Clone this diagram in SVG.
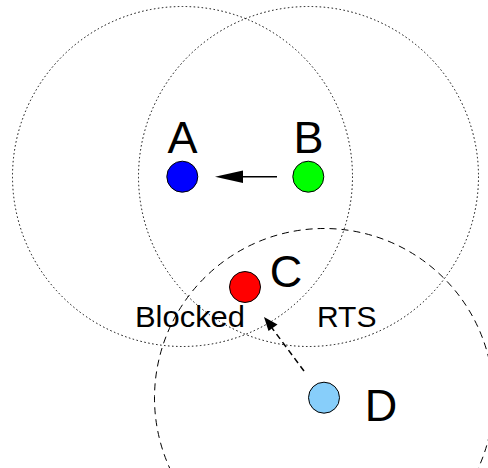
<svg xmlns="http://www.w3.org/2000/svg" width="488" height="468" viewBox="0 0 488 468">
<style>
.range{fill:none;stroke:#000;stroke-width:1;stroke-dasharray:1.5,2.5}
.rts{fill:none;stroke:#000;stroke-width:1;stroke-dasharray:7,5}
.node{stroke:#000;stroke-width:1}
.big{font-family:"Liberation Sans",Arial,sans-serif;font-size:45px;fill:#000;text-anchor:middle}
.small{font-family:"Liberation Sans",Arial,sans-serif;font-size:30px;fill:#000}
</style>
<defs>
<marker id="ah" viewBox="0 0 10 10" refX="10" refY="5" markerWidth="10" markerHeight="10" markerUnits="userSpaceOnUse" orient="auto">
<path d="M0,0 L10,5 L0,10 Z" fill="#000"/>
</marker>
</defs>
<g id="ranges">
<circle class="range" cx="182.5" cy="176.5" r="170"/>
<circle class="range" cx="308.5" cy="176.5" r="170"/>
<circle class="rts" cx="324" cy="398" r="169.5"/>
</g>
<g id="connectors">
<line x1="277" y1="176.7" x2="243" y2="176.7" stroke="#000" stroke-width="1.5"/>
<path d="M215,176.7 L243,170.5 L243,183 Z" fill="#000"/>
<line x1="304" y1="371" x2="272" y2="328" stroke="#000" stroke-width="1.5" stroke-dasharray="6,4"/>
<path d="M264,317 L277.5,324.5 L268.5,331 Z" fill="#000"/>
</g>
<g id="node-A">
<circle class="node" cx="182.3" cy="176.7" r="15.5" fill="#0000ff"/>
<text class="big" x="182.5" y="153">A</text>
</g>
<g id="node-B">
<circle class="node" cx="308.3" cy="176.7" r="15.5" fill="#00ff00"/>
<text class="big" x="308.5" y="153">B</text>
</g>
<g id="node-C">
<circle class="node" cx="245" cy="287" r="15.5" fill="#ff0000"/>
<text class="big" x="286" y="287">C</text>
</g>
<g id="node-D">
<circle class="node" cx="324" cy="397.7" r="15.5" fill="#87cefa"/>
<text class="big" x="381" y="421">D</text>
</g>
<g id="labels">
<text class="small" x="135" y="327" textLength="110" lengthAdjust="spacingAndGlyphs">Blocked</text>
<text class="small" x="317" y="327">RTS</text>
</g>
</svg>
